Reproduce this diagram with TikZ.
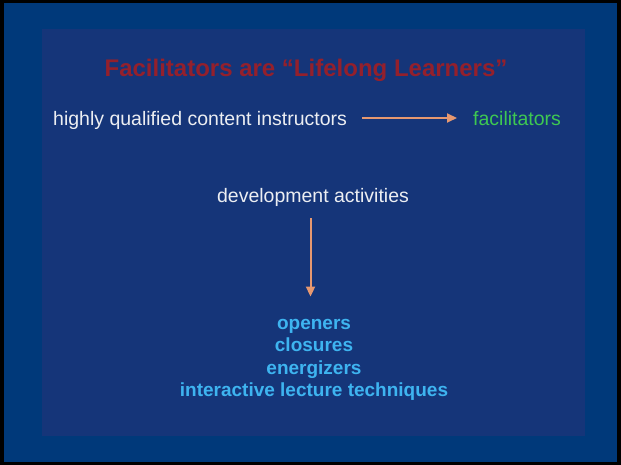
\documentclass[tikz,border=0pt]{standalone}
\usepackage{fontspec}
\setmainfont{Liberation Sans}
\usetikzlibrary{arrows.meta}

\definecolor{framebg}{RGB}{0,57,122}
\definecolor{slidebg}{RGB}{21,53,121}
\definecolor{titlered}{RGB}{148,32,44}
\definecolor{plainwhite}{RGB}{236,238,242}
\definecolor{goalgreen}{RGB}{62,200,82}
\definecolor{itemblue}{RGB}{62,180,240}
\definecolor{arrowtan}{RGB}{230,152,112}

\begin{document}
\begin{tikzpicture}[x=1pt,y=-1pt,
  titletext/.style={anchor=base,inner sep=0pt,text=titlered,font=\fontsize{24}{28}\selectfont\bfseries},
  plaintext/.style={anchor=base,inner sep=0pt,text=plainwhite,font=\fontsize{19.5}{22}\selectfont},
  itemtext/.style={anchor=base,inner sep=0pt,text=itemblue,font=\fontsize{19}{22.5}\selectfont\bfseries},
  flowarrow/.style={draw=arrowtan,line width=2pt,-{Triangle[length=10pt,width=9pt]}}]
\useasboundingbox (0,0) rectangle (621,465);
\fill[black] (0,0) rectangle (621,465);
\fill[framebg] (4,3) rectangle (617,462);
\fill[slidebg] (42,29) rectangle (585,436);

\node[titletext] (title) at (306,77) {Facilitators are “Lifelong Learners”};
\node[plaintext,anchor=base west] (instr) at (53,126) {highly qualified content instructors};
\node[plaintext,anchor=base west,text=goalgreen] (facil) at (473,126) {facilitators};
\node[plaintext] (dev) at (313,203) {development activities};
\node[itemtext] (open) at (314,329) {openers};
\node[itemtext] (clos) at (314,351.5) {closures};
\node[itemtext] (ener) at (314,374) {energizers};
\node[itemtext] (inter) at (314,396.5) {interactive lecture techniques};

\draw [flowarrow,shorten <=15pt,shorten >=16pt] ([yshift=8pt]instr.base east) -- ([yshift=8pt]facil.base west);
\draw [flowarrow,shorten <=11pt,shorten >=22pt] ([xshift=-2.5pt]dev.south) -- ([xshift=-2.5pt]dev.south |- open.north);
\end{tikzpicture}
\end{document}
